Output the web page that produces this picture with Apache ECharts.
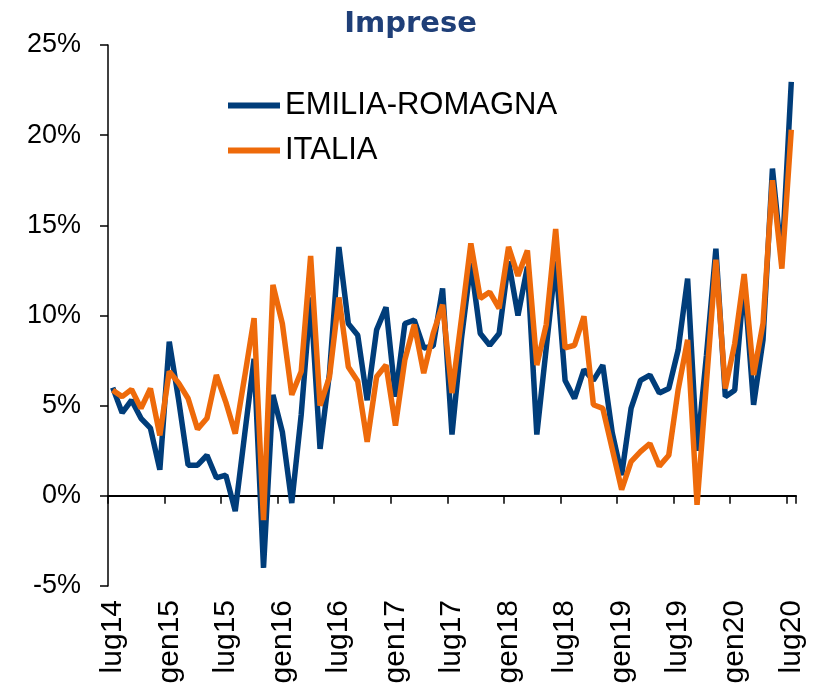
<!DOCTYPE html>
<html>
<head>
<meta charset="utf-8">
<script src="https://cdn.jsdelivr.net/npm/echarts@6/dist/echarts.min.js"></script>
<style>
  html, body { margin: 0; padding: 0; background: #ffffff; }
  #chart { width: 821px; height: 694px; }
</style>
</head>
<body>
<div id="chart"></div>
<script>
// mesi da lug14 a lug20
const categories = [
  'lug14', 'ago14', 'set14', 'ott14', 'nov14', 'dic14',
  'gen15', 'feb15', 'mar15', 'apr15', 'mag15', 'giu15',
  'lug15', 'ago15', 'set15', 'ott15', 'nov15', 'dic15',
  'gen16', 'feb16', 'mar16', 'apr16', 'mag16', 'giu16',
  'lug16', 'ago16', 'set16', 'ott16', 'nov16', 'dic16',
  'gen17', 'feb17', 'mar17', 'apr17', 'mag17', 'giu17',
  'lug17', 'ago17', 'set17', 'ott17', 'nov17', 'dic17',
  'gen18', 'feb18', 'mar18', 'apr18', 'mag18', 'giu18',
  'lug18', 'ago18', 'set18', 'ott18', 'nov18', 'dic18',
  'gen19', 'feb19', 'mar19', 'apr19', 'mag19', 'giu19',
  'lug19', 'ago19', 'set19', 'ott19', 'nov19', 'dic19',
  'gen20', 'feb20', 'mar20', 'apr20', 'mag20', 'giu20',
  'lug20'
]

const emiliaRomagna = [
  6.0, 4.6, 5.3, 4.3, 3.75, 1.45,
  8.55, 5.3, 1.7, 1.7, 2.25, 1.0,
  1.15, -0.85, 3.4, 7.6, -4.0, 5.6,
  3.55, -0.4, 4.5, 11.0, 2.6, 6.8,
  13.8, 9.55, 8.9, 5.3, 9.2, 10.45,
  5.5, 9.55, 9.75, 8.2, 8.3, 11.5,
  3.4, 8.7, 12.9, 9.0, 8.35, 9.0,
  13.0, 10.0, 12.7, 3.4, 8.2, 13.0,
  6.4, 5.4, 7.0, 6.4, 7.25, 3.5,
  1.15, 4.85, 6.4, 6.7, 5.7, 5.95,
  8.1, 12.05, 2.5, 7.8, 13.7, 5.5,
  5.85, 11.95, 5.05, 8.65, 18.15, 13.0,
  22.95
]

const italia = [
  5.85, 5.5, 5.9, 4.85, 5.95, 3.35,
  6.9, 6.25, 5.4, 3.7, 4.3, 6.7,
  5.2, 3.45, 6.6, 9.85, -1.35, 11.7,
  9.55, 5.6, 6.9, 13.3, 5.0, 6.6,
  11.0, 7.15, 6.35, 3.0, 6.6, 7.25,
  3.9, 7.55, 9.5, 6.8, 9.0, 10.6,
  5.7, 9.8, 14.0, 10.95, 11.3, 10.4,
  13.8, 12.2, 13.6, 7.25, 9.5, 14.8,
  8.2, 8.35, 9.95, 5.05, 4.85, 2.6,
  0.35, 1.9, 2.45, 2.9, 1.65, 2.25,
  5.9, 8.65, -0.5, 6.3, 13.1, 5.95,
  8.45, 12.3, 6.7, 9.55, 17.5, 12.6,
  20.3
]

const seriesNames = ['EMILIA-ROMAGNA', 'ITALIA']
const seriesColors = ['#003d7a', '#ee6a0a']
const labelFont = '"Liberation Sans", Arial, sans-serif'

const chart = echarts.init(document.getElementById('chart'))

chart.setOption({
  animation: false,
  title: {
    text: 'Imprese',
    left: 'center',
    top: 5,
    textStyle: {
      fontFamily: '"DejaVu Sans", sans-serif',
      fontSize: 29,
      fontWeight: 'bold',
      color: '#1f3f78'
    }
  },
  legend: {
    orient: 'vertical',
    left: 223,
    top: 85,
    icon: 'rect',
    itemWidth: 52,
    itemHeight: 6,
    itemGap: 14,
    data: seriesNames,
    textStyle: { fontFamily: labelFont, fontSize: 31, color: '#000000' }
  },
  grid: { left: 108, right: 25, top: 45, bottom: 108 },
  xAxis: [
    {
      // linea dello zero con i tick
      type: 'category',
      data: categories,
      position: 'top',
      boundaryGap: true,
      axisLine: { onZero: true, lineStyle: { color: '#000000', width: 2 } },
      axisTick: { show: true, inside: true, interval: 5, length: 8, lineStyle: { color: '#000000', width: 1.5 } },
      axisLabel: { show: false },
      splitLine: { show: false }
    },
    {
      type: 'category',
      data: categories,
      position: 'bottom',
      boundaryGap: true,
      axisLine: { show: false, onZero: false },
      axisTick: { show: false },
      axisLabel: {
        interval: 5,
        rotate: 90,
        margin: 14,
        fontFamily: labelFont,
        fontSize: 30,
        color: '#000000'
      },
      splitLine: { show: false }
    }
  ],
  yAxis: {
    type: 'value',
    min: -5,
    max: 25,
    interval: 5,
    axisLine: { show: true, lineStyle: { color: '#000000', width: 1.5 } },
    axisTick: { show: true, length: 8, lineStyle: { color: '#000000', width: 1.5 } },
    splitLine: { show: false },
    axisLabel: {
      formatter: '{value}%',
      margin: 27,
      fontFamily: labelFont,
      fontSize: 27,
      color: '#000000'
    }
  },
  series: [
    {
      name: seriesNames[0],
      type: 'line',
      data: emiliaRomagna,
      showSymbol: false,
      color: seriesColors[0],
      lineStyle: { width: 5.5, color: seriesColors[0] }
    },
    {
      name: seriesNames[1],
      type: 'line',
      data: italia,
      showSymbol: false,
      color: seriesColors[1],
      lineStyle: { width: 5.5, color: seriesColors[1] }
    }
  ]
})
</script>
</body>
</html>
